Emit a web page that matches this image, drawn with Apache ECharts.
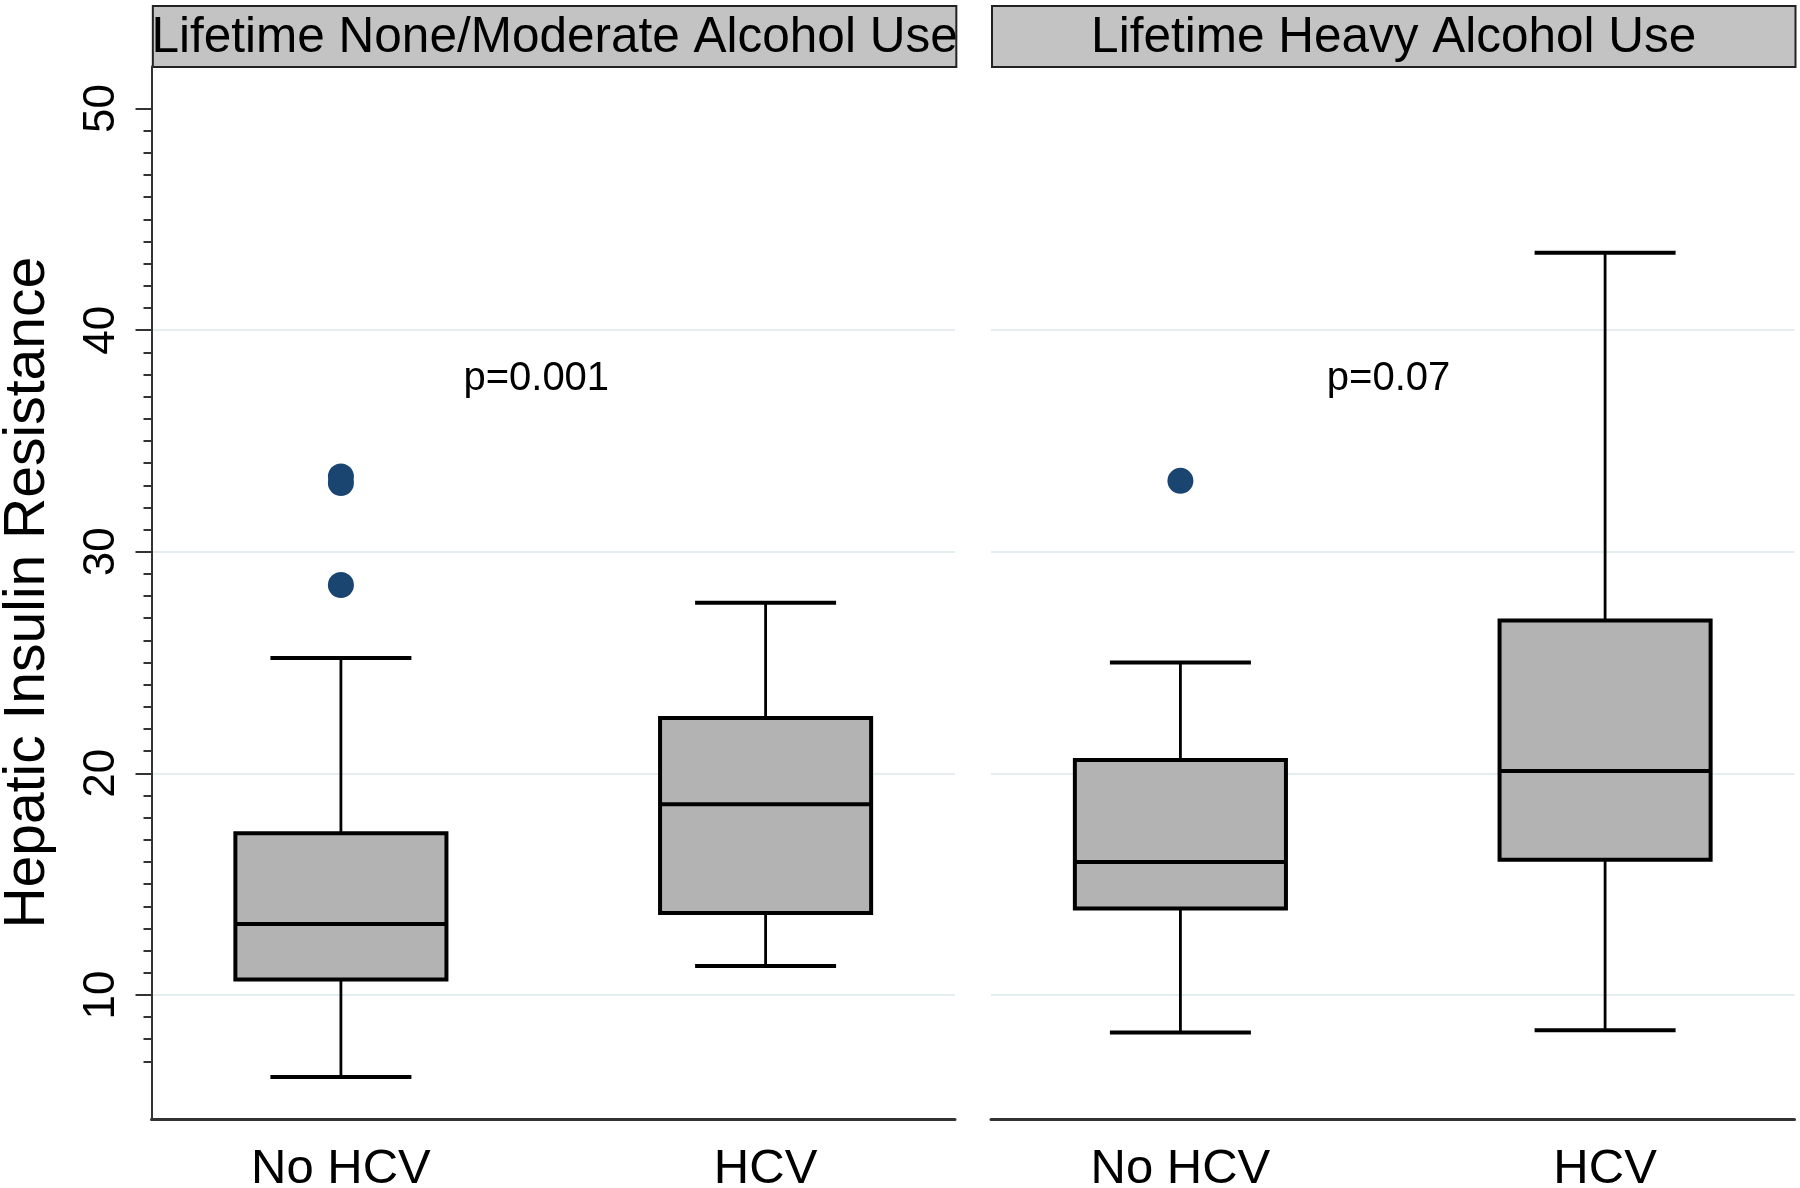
<!DOCTYPE html>
<html><head><meta charset="utf-8">
<script src="https://cdn.jsdelivr.net/npm/echarts@6/dist/echarts.min.js"></script>
<style>html,body{margin:0;padding:0;background:#fff}#c{width:1800px;height:1188px}</style>
</head><body><div id="c"></div>
<script>
// ---- data ----
const panelTitles = ['Lifetime None/Moderate Alcohol Use', 'Lifetime Heavy Alcohol Use'];
const categories = ['No HCV', 'HCV'];
const categoryPos = [1, 2];
// [lower whisker, Q1, median, Q3, upper whisker]
const boxModerate = [[6.3, 10.7, 13.2, 17.3, 25.2], [11.3, 13.7, 18.6, 22.5, 27.7]];
const boxHeavy = [[8.3, 13.9, 16.0, 20.6, 25.0], [8.4, 16.1, 20.1, 26.9, 43.5]];
const outliersModerate = [[1, 33.4], [1, 33.1], [1, 28.5]];
const outliersHeavy = [[1, 33.2]];
const pValueText = ['p=0.001', 'p=0.07'];
const pValuePos = [[1.46, 37.8], [1.49, 37.8]];
const yTickLabels = [10, 20, 30, 40, 50];
const yMinorTicks = [7, 8, 9, 10, 11, 12, 13, 14, 15, 16, 17, 18, 19, 20, 21, 22, 23, 24, 25, 26, 27, 28, 29, 30,
  31, 32, 33, 34, 35, 36, 37, 38, 39, 40, 41, 42, 43, 44, 45, 46, 47, 48, 49, 50];
const yGridLines = [10, 20, 30, 40];
const yRange = [4.4, 51.9];
const xRange = [0.554, 2.446];

// ---- chart ----
const FONT = 'Liberation Sans, Arial, sans-serif';
const chart = echarts.init(document.getElementById('c'), null, {renderer: 'canvas'});

const grids = [
  {left: 151.5, top: 66.5, width: 803.5, height: 1052.5, containLabel: false, outerBoundsMode: 'none'},
  {left: 991, top: 66.5, width: 803.5, height: 1052.5, containLabel: false, outerBoundsMode: 'none'}
];

function boxData(stats) {
  return stats.map((s, i) => [categoryPos[i]].concat(s));
}

function renderBox(params, api) {
  const x = api.value(0);
  const lo = api.coord([x, api.value(1)]);
  const q1 = api.coord([x, api.value(2)]);
  const md = api.coord([x, api.value(3)]);
  const q3 = api.coord([x, api.value(4)]);
  const hi = api.coord([x, api.value(5)]);
  const bw = api.size([0.497, 0])[0];
  const cw = api.size([0.332, 0])[0];
  const cx = lo[0];
  const line = (x1, y1, x2, y2, w) => ({type: 'line', shape: {x1, y1, x2, y2}, style: {stroke: '#000', lineWidth: w}});
  return {type: 'group', children: [
    line(cx, hi[1], cx, q3[1], 2.8),
    line(cx, q1[1], cx, lo[1], 2.8),
    line(cx - cw / 2, hi[1], cx + cw / 2, hi[1], 4),
    line(cx - cw / 2, lo[1], cx + cw / 2, lo[1], 4),
    {type: 'rect', shape: {x: cx - bw / 2, y: q3[1], width: bw, height: q1[1] - q3[1]},
      style: {fill: '#b3b3b3', stroke: '#000', lineWidth: 4}},
    line(cx - bw / 2, md[1], cx + bw / 2, md[1], 4)
  ]};
}

const xAxes = [0, 1].map(g => ({
  type: 'value', gridIndex: g, min: xRange[0], max: xRange[1],
  axisLine: {show: true, onZero: false, lineStyle: {color: '#333', width: 3}},
  axisTick: {show: false},
  splitLine: {show: false},
  axisLabel: {
    show: true, customValues: categoryPos, margin: 26,
    formatter: v => categories[Math.round(v) - 1] || '',
    fontFamily: FONT, fontSize: 49, color: '#000'
  }
}));

const yAxes = [
  // left: major ticks + labels
  {type: 'value', gridIndex: 0, position: 'left', min: yRange[0], max: yRange[1],
    name: 'Hepatic Insulin Resistance', nameLocation: 'middle', nameGap: 95,
    nameTextStyle: {fontFamily: FONT, fontSize: 57, color: '#000'},
    axisLine: {show: true, lineStyle: {color: '#333', width: 2}},
    axisTick: {show: true, customValues: yTickLabels, length: 16, lineStyle: {color: '#333', width: 2}},
    axisLabel: {show: true, customValues: yTickLabels, rotate: 90, margin: 28,
      fontFamily: FONT, fontSize: 44, color: '#000'},
    splitLine: {show: false}},
  // left: minor ticks
  {type: 'value', gridIndex: 0, position: 'left', min: yRange[0], max: yRange[1],
    axisLine: {show: false},
    axisTick: {show: true, customValues: yMinorTicks, length: 8, lineStyle: {color: '#333', width: 2}},
    axisLabel: {show: false}, splitLine: {show: false}},
  // left: grid lines
  {type: 'value', gridIndex: 0, position: 'left', min: yRange[0], max: yRange[1],
    axisLine: {show: false},
    axisTick: {show: false, customValues: yGridLines},
    axisLabel: {show: false},
    splitLine: {show: true, lineStyle: {color: '#e4eef0', width: 2}}},
  // right: grid lines
  {type: 'value', gridIndex: 1, position: 'left', min: yRange[0], max: yRange[1],
    axisLine: {show: false},
    axisTick: {show: false, customValues: yGridLines},
    axisLabel: {show: false},
    splitLine: {show: true, lineStyle: {color: '#e4eef0', width: 2}}}
];

const pLabel = txt => ({show: true, position: 'inside', formatter: txt, fontFamily: FONT, fontSize: 40,
  color: '#000', textBorderWidth: 0, opacity: 1});

const series = [
  {type: 'custom', xAxisIndex: 0, yAxisIndex: 0, renderItem: renderBox,
    encode: {x: 0, y: [1, 2, 3, 4, 5]}, data: boxData(boxModerate), z: 3},
  {type: 'custom', xAxisIndex: 1, yAxisIndex: 3, renderItem: renderBox,
    encode: {x: 0, y: [1, 2, 3, 4, 5]}, data: boxData(boxHeavy), z: 3},
  {type: 'scatter', xAxisIndex: 0, yAxisIndex: 0, data: outliersModerate, symbolSize: 26,
    itemStyle: {color: '#1b4571', opacity: 1}, z: 4},
  {type: 'scatter', xAxisIndex: 1, yAxisIndex: 3, data: outliersHeavy, symbolSize: 26,
    itemStyle: {color: '#1b4571', opacity: 1}, z: 4},
  {type: 'scatter', xAxisIndex: 0, yAxisIndex: 0, data: [pValuePos[0]], symbolSize: 0,
    itemStyle: {opacity: 1}, label: pLabel(pValueText[0])},
  {type: 'scatter', xAxisIndex: 1, yAxisIndex: 3, data: [pValuePos[1]], symbolSize: 0,
    itemStyle: {opacity: 1}, label: pLabel(pValueText[1])}
];

const headerGraphics = grids.map((g, i) => ({
  type: 'group', left: g.left, top: 5,
  children: [
    {type: 'rect', shape: {x: 0, y: 0, width: g.width, height: 61},
      style: {fill: '#c3c3c3', stroke: '#222', lineWidth: 2}},
    {type: 'text', x: g.width / 2, y: 32,
      style: {text: panelTitles[i], fontFamily: FONT, fontSize: 49.5, fill: '#000',
        align: 'center', verticalAlign: 'middle'}}
  ]
}));

chart.setOption({
  animation: false,
  backgroundColor: '#fff',
  grid: grids,
  xAxis: xAxes,
  yAxis: yAxes,
  series: series,
  graphic: headerGraphics
});
</script></body></html>
